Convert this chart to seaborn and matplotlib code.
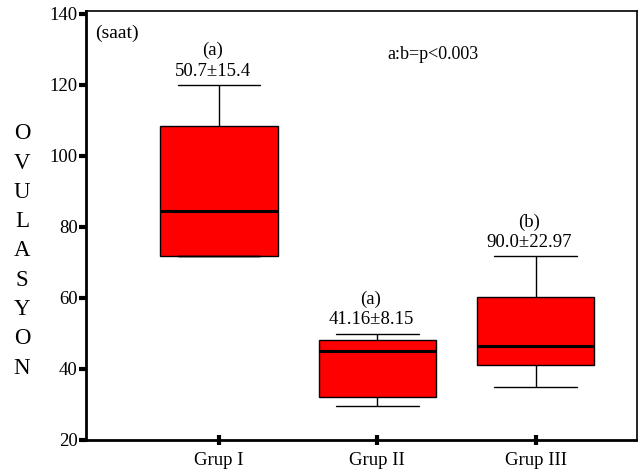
import numpy as np
import pandas as pd
import matplotlib
matplotlib.use("Agg")
import matplotlib.pyplot as plt
import seaborn as sns

# Datos (saat)
gruplar = ["Grup I", "Grup II", "Grup III"]
alt_bigit = [71.8, 29.6, 34.8]   # alt whisker
q1 = [71.8, 32.2, 41.1]
medyan = [84.5, 45.1, 46.5]
q3 = [108.5, 48.2, 60.2]
ust_bigit = [120.0, 49.9, 71.8]  # ust whisker

harfler = ["(a)", "(a)", "(b)"]
ort_sd = ["50.7\u00b115.4", "41.16\u00b18.15", "90.0\u00b122.97"]

# cinco valores por grupo -> cuartiles exactos con whis=(0, 100)
filas = []
for i, g in enumerate(gruplar):
    for v in [alt_bigit[i], q1[i], medyan[i], q3[i], ust_bigit[i]]:
        filas.append({"grup": g, "saat": v})
df = pd.DataFrame(filas)

sns.set_style("ticks")
plt.rcParams["font.family"] = ["Liberation Serif", "DejaVu Serif"]
plt.rcParams["text.color"] = "black"
plt.rcParams["xtick.color"] = "black"
plt.rcParams["ytick.color"] = "black"
plt.rcParams["axes.edgecolor"] = "black"

fig = plt.figure(figsize=(6.38, 4.71), dpi=100)
ax = fig.add_axes([86 / 638, 1 - 440 / 471, (637 - 86) / 638, (440 - 11) / 471])

sns.boxplot(
    data=df, x="grup", y="saat", order=gruplar, ax=ax,
    color="#ff0000", saturation=1, width=0.74, whis=(0, 100),
    linecolor="black", linewidth=1,
    medianprops={"color": "black", "linewidth": 2.2},
    boxprops={"edgecolor": "black", "facecolor": "#ff0000"},
)

# largo de las tapas de los bigotes
for line in ax.lines:
    xd = np.asarray(line.get_xdata(), dtype=float)
    yd = np.asarray(line.get_ydata(), dtype=float)
    if len(xd) == 2 and yd[0] == yd[1] and abs(xd[1] - xd[0]) < 0.6:
        c = (xd[0] + xd[1]) / 2
        if any(abs(yd[0] - v) < 1e-9 for v in alt_bigit + ust_bigit):
            line.set_xdata([c - 0.26, c + 0.26])

# anotaciones
for i in range(len(gruplar)):
    y_txt = ust_bigit[i]
    ax.text(i - 0.04, y_txt + 3.9, ort_sd[i], ha="center", va="center", fontsize=13.5)
    ax.text(i - 0.04, y_txt + 9.6, harfler[i], ha="center", va="center", fontsize=13.5)

ax.text(-0.78, 134.6, "(saat)", ha="left", va="center", fontsize=14)
ax.text(1.35, 128.5, "a:b=p<0.003", ha="center", va="center", fontsize=13)

fig.text(22 / 638, 1 - 251 / 471, "\n".join("OVULASYON"), ha="center", va="center",
         fontsize=16.5, linespacing=1.52)

ax.set_ylim(20, 140.8)
ax.set_xlim(-0.84, 2.64)
ax.set_yticks([20, 40, 60, 80, 100, 120, 140])
ax.set_xlabel("")
ax.set_ylabel("")
ax.tick_params(axis="y", direction="out", length=5, width=3, labelsize=13.5, pad=1)
ax.tick_params(axis="x", direction="inout", length=7, width=3, labelsize=13.5, pad=5)

for s in ["left", "bottom"]:
    ax.spines[s].set_linewidth(2)
for s in ["top", "right"]:
    ax.spines[s].set_linewidth(1.2)
    ax.spines[s].set_visible(True)

fig.savefig("out.png", dpi=100)
